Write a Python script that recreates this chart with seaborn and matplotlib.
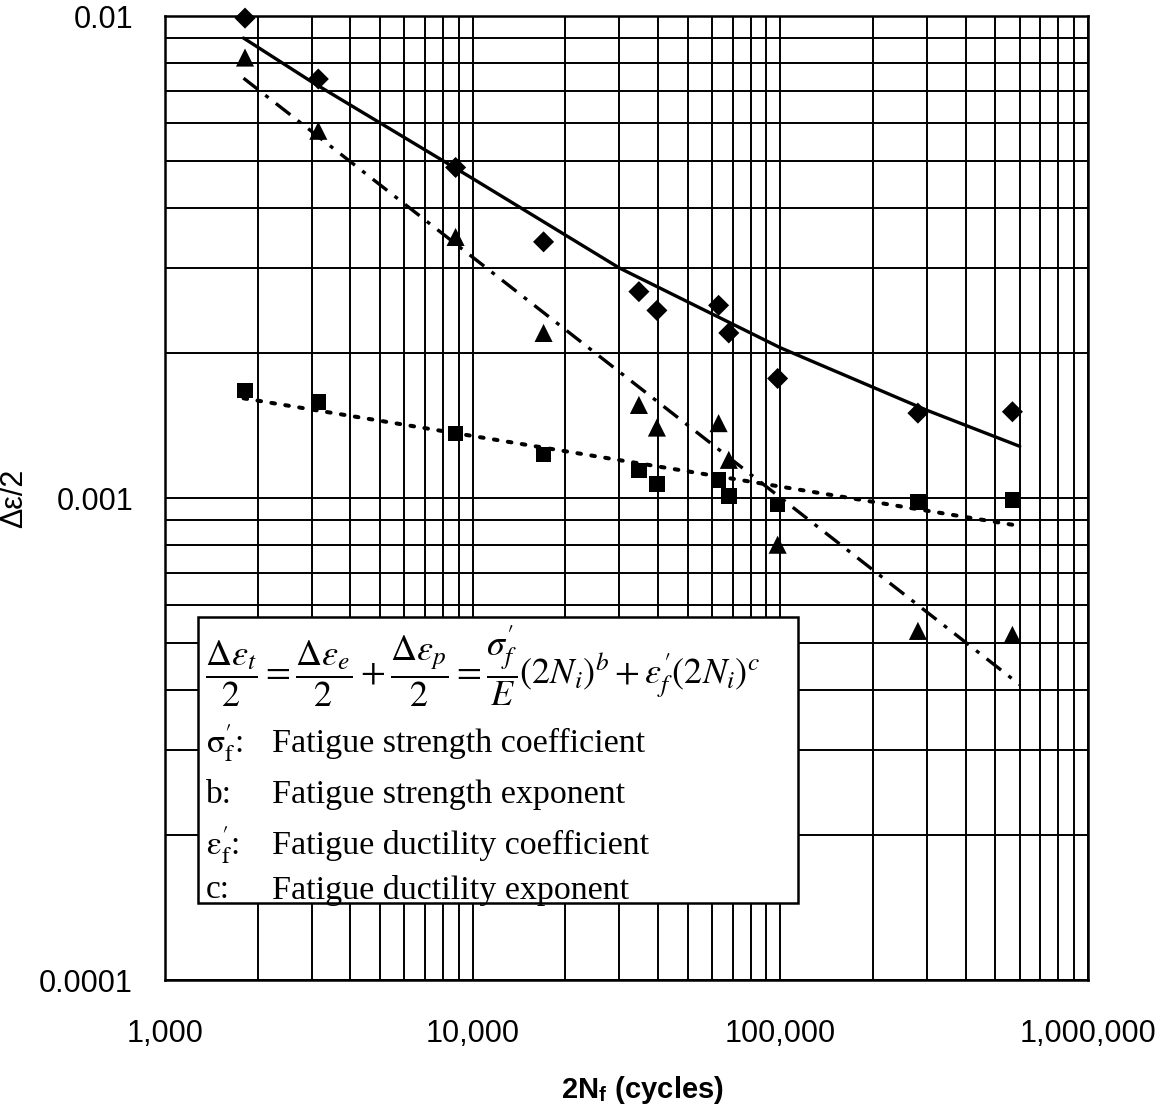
import numpy as np
import pandas as pd
import matplotlib
matplotlib.use("Agg")
import matplotlib.pyplot as plt
from matplotlib.ticker import FixedLocator, LogLocator, NullFormatter
from matplotlib.patches import Rectangle
import seaborn as sns

# ---------------- data ----------------
cycles = [1820, 3150, 8800, 17000, 34700, 39700, 63000, 68000, 98000, 280000, 568000]
total_strain = [0.0099, 0.0074, 0.00485, 0.0034, 0.00268, 0.00245, 0.00251, 0.0022, 0.00177, 0.0015, 0.00151]
plastic_strain = [0.0082, 0.00578, 0.00348, 0.0022, 0.00156, 0.0014, 0.00143, 0.0012, 0.0008, 0.00053, 0.00052]
elastic_strain = [0.00167, 0.00158, 0.00136, 0.00123, 0.00114, 0.00107, 0.00109, 0.00101, 0.00097, 0.00098, 0.00099]

# fitted curves, read as points along each drawn line
total_fit_N = [1800, 3000, 10000, 30000, 100000, 300000, 600000]
total_fit_y = [0.0090, 0.0073, 0.0046, 0.0030, 0.00205, 0.00152, 0.00128]
elastic_fit_N = [1800, 600000]
elastic_fit_y = [0.00161, 0.000875]
plastic_fit_N = [1800, 600000]
plastic_fit_y = [0.00743, 0.00041]

x_ticks = [1000, 10000, 100000, 1000000]
x_ticklabels = ["1,000", "10,000", "100,000", "1,000,000"]
y_ticks = [0.0001, 0.001, 0.01]
y_ticklabels = ["0.0001", "0.001", "0.01"]

# ---------------- figure ----------------
sns.set_theme(style="white")
plt.rcParams["font.family"] = ["Liberation Sans", "DejaVu Sans"]
plt.rcParams["mathtext.fontset"] = "stix"
plt.rcParams["text.color"] = "black"
plt.rcParams["axes.labelcolor"] = "black"

W, H = 1175, 1119
fig = plt.figure(figsize=(W / 100, H / 100), dpi=100)
fig.patch.set_facecolor("white")
ax = fig.add_axes([165 / W, 1 - 980 / H, (1088 - 165) / W, (980 - 16) / H])
ax.set_facecolor("white")

pts = pd.DataFrame({
    "N": cycles * 3,
    "strain": total_strain + plastic_strain + elastic_strain,
    "kind": ["total"] * len(cycles) + ["plastic"] * len(cycles) + ["elastic"] * len(cycles),
})

fits = pd.DataFrame({
    "N": total_fit_N + plastic_fit_N + elastic_fit_N,
    "strain": total_fit_y + plastic_fit_y + elastic_fit_y,
    "kind": ["total"] * len(total_fit_N) + ["plastic"] * len(plastic_fit_N) + ["elastic"] * len(elastic_fit_N),
})

ax.set_xscale("log")
ax.set_yscale("log")

sns.lineplot(data=fits[fits.kind != "elastic"], x="N", y="strain", hue="kind", style="kind",
             palette={"total": "black", "plastic": "black"},
             dashes={"total": "", "plastic": (5.5, 2.8, 1.2, 2.8)},
             linewidth=2.4, legend=False, ax=ax, zorder=3, estimator=None)
sns.lineplot(data=fits[fits.kind == "elastic"], x="N", y="strain",
             color="black", dashes=False, linewidth=2.9, legend=False, ax=ax,
             zorder=3, estimator=None)
ax.lines[-1].set_linestyle((0, (0.9, 2.6)))
ax.lines[-1].set_dash_capstyle("round")

sns.scatterplot(data=pts, x="N", y="strain", style="kind", size="kind",
                markers={"total": "D", "plastic": "^", "elastic": "s"},
                sizes={"total": 115, "plastic": 170, "elastic": 125},
                color="black", edgecolor="black", linewidth=0,
                legend=False, ax=ax, zorder=4)
for coll in ax.collections:
    coll.set_clip_on(False)

ax.set_xlim(1000, 1000000)
ax.set_ylim(0.0001, 0.01)

ax.xaxis.set_major_locator(FixedLocator(x_ticks))
ax.set_xticklabels(x_ticklabels)
ax.yaxis.set_major_locator(FixedLocator(y_ticks))
ax.set_yticklabels(y_ticklabels)
ax.xaxis.set_minor_locator(LogLocator(base=10, subs=np.arange(2, 10)))
ax.yaxis.set_minor_locator(LogLocator(base=10, subs=np.arange(2, 10)))
ax.xaxis.set_minor_formatter(NullFormatter())
ax.yaxis.set_minor_formatter(NullFormatter())

ax.grid(True, which="both", color="black", linewidth=1.4)
ax.set_axisbelow(True)
for s in ax.spines.values():
    s.set_color("black")
    s.set_linewidth(1.8)

ax.tick_params(axis="x", which="both", length=0, pad=28, labelsize=22, colors="black")
ax.tick_params(axis="y", which="major", length=8, width=1.8, direction="out",
               pad=15, labelsize=22, colors="black")
ax.tick_params(axis="y", which="minor", length=0)

ax.set_xlabel(r"2N$_{\mathregular{f}}$ (cycles)", fontsize=21, fontweight="bold",
              labelpad=24, color="black")
ax.xaxis.set_label_coords((642 - 165) / (1088 - 165), -0.097)
ax.set_ylabel("Δε/2", fontsize=22, labelpad=7, color="black")

# ---------------- explanation box ----------------
def fx(px):
    return px / W

def fy(py):
    return 1 - py / H

box = Rectangle((fx(198), fy(903)), fx(798) - fx(198), fy(617) - fy(903),
                transform=fig.transFigure, facecolor="white", edgecolor="black",
                linewidth=1.8, zorder=10)
fig.patches.append(box)

eq = (r"$\dfrac{\Delta\varepsilon_t}{2}=\dfrac{\Delta\varepsilon_e}{2}+\dfrac{\Delta\varepsilon_p}{2}"
      r"=\dfrac{\sigma^{\prime}_f}{E}(2N_i)^b+\varepsilon^{\prime}_f(2N_i)^c$")
fig.text(fx(205), fy(666), eq, fontsize=26, va="center", ha="left", zorder=11)

serif = ["Liberation Serif", "DejaVu Serif"]
labels_left = [r"$\mathrm{\sigma^{\prime}_f}$:", "b:", r"$\mathrm{\varepsilon^{\prime}_f}$:", "c:"]
labels_right = ["Fatigue strength coefficient", "Fatigue strength exponent",
                "Fatigue ductility coefficient", "Fatigue ductility exponent"]
rows_y = [743, 795, 845, 890]
for l, r, yy in zip(labels_left, labels_right, rows_y):
    fig.text(fx(206), fy(yy), l, fontsize=24, family=serif, va="center", ha="left", zorder=11)
    fig.text(fx(272), fy(yy), r, fontsize=24.5, family=serif, va="center", ha="left", zorder=11)

fig.savefig("out.png", dpi=100, facecolor="white")
